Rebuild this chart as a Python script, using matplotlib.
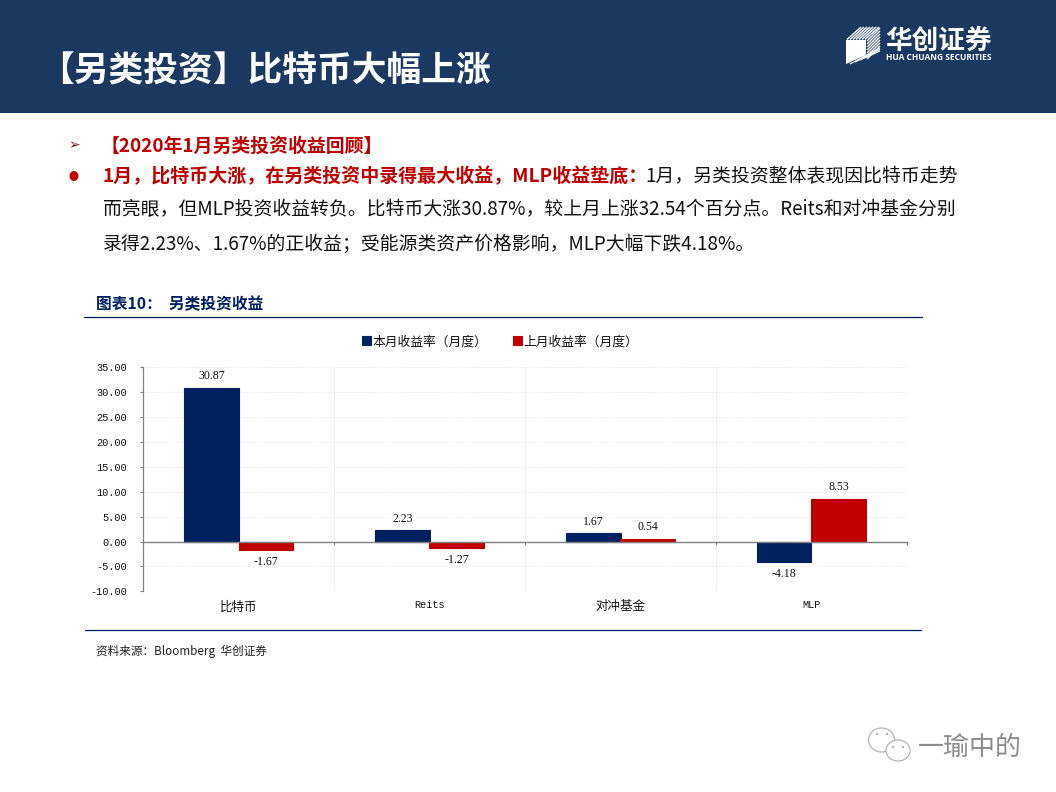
import matplotlib
matplotlib.use("Agg")
import matplotlib.pyplot as plt
from matplotlib.patches import Ellipse, Polygon, Rectangle

CJK = ["Noto Sans CJK SC", "DejaVu Sans"]
plt.rcParams["font.family"] = CJK
plt.rcParams["axes.unicode_minus"] = False

# Chart data
categories = ["比特币", "Reits", "对冲基金", "MLP"]
this_month = [30.87, 2.23, 1.67, -4.18]
last_month = [-1.67, -1.27, 0.54, 8.53]
series_names = ["本月收益率（月度）", "上月收益率（月度）"]
y_ticks = [-10, -5, 0, 5, 10, 15, 20, 25, 30, 35]

# Slide text
slide_title = "【另类投资】比特币大幅上涨"
section_head = "【2020年1月另类投资收益回顾】"
lead_red = "1月，比特币大涨，在另类投资中录得最大收益，MLP收益垫底："
lead_black = "1月，另类投资整体表现因比特币走势"
body_2 = "而亮眼，但MLP投资收益转负。比特币大涨30.87%，较上月上涨32.54个百分点。Reits和对冲基金分别"
body_3 = "录得2.23%、1.67%的正收益；受能源类资产价格影响，MLP大幅下跌4.18%。"
chart_title = "图表10：  另类投资收益"
source_note = "资料来源：Bloomberg  华创证券"

NAVY = "#002060"
RED = "#C00000"
BAND = "#1A3860"
INK = "#111111"
W, H = 1056, 792

fig = plt.figure(figsize=(W / 100, H / 100), dpi=100, facecolor="white")

# Slide layer, addressed in pixels from the top-left corner
bg = fig.add_axes([0, 0, 1, 1], zorder=0)
bg.set_xlim(0, W)
bg.set_ylim(H, 0)
bg.axis("off")
bg.add_patch(Rectangle((0, 0), W, 113, color=BAND, lw=0))
bg.text(39, 71, slide_title, color="white", fontsize=25, fontweight="bold", va="center")

# Company mark: a white block with hatched top and side faces
bg.add_patch(Polygon([(846, 40), (866, 40), (866, 55), (846, 64)], color="white", lw=0))
for i in range(7):
    d = i * 3.0
    bg.plot([847 + d, 861 + d], [39.5, 27], color="white", lw=1.0, solid_capstyle="butt")
    bg.plot([867, 880], [41 + d, 28 + d], color="white", lw=1.0, solid_capstyle="butt")
    if i > 3:
        bg.plot([850 + (i - 4) * 5, 880], [64 - (i - 4) * 2, 49 + (i - 4) * 1.5 - 1],
                color="white", lw=0.9, solid_capstyle="butt")
bg.text(885, 41, "华创证券", color="white", fontsize=19.2, fontweight="bold", va="center")
bg.text(886, 58, "HUA CHUANG SECURITIES", color="white", fontsize=6.0, fontweight="bold",
        family="Open Sans", va="center")

# Slide body text
bg.text(68, 145, "➢", color="#7A1010", fontsize=10, family=["DejaVu Sans"], va="center")
bg.text(101, 146, section_head, color=RED, fontsize=13.6, fontweight="bold", va="center")
bg.add_patch(Ellipse((74, 176), 9, 10, color=RED, lw=0))
bg.text(103, 177, lead_red, color=RED, fontsize=13.7, fontweight="bold", va="center")
bg.text(645, 177, lead_black, color=INK, fontsize=13.55, va="center")
bg.text(103, 210, body_2, color=INK, fontsize=13.55, va="center")
bg.text(103, 244, body_3, color=INK, fontsize=13.55, va="center")

# Chart frame: caption, rules, source
bg.text(96, 304, chart_title, color=NAVY, fontsize=11.3, fontweight="bold", va="center")
bg.plot([84, 922], [317, 317], color=NAVY, lw=0.9)
bg.plot([85, 921], [630, 630], color=NAVY, lw=0.9)
bg.text(96, 651, source_note, color="#222222", fontsize=8.4, va="center")

# Footer account mark
for centre, size in [((881.5, 740), (26, 24)), ((898, 750.5), (24, 21))]:
    bg.add_patch(Ellipse(centre, *size, facecolor="white", edgecolor="#B4B4B4", lw=0.9))
for eye in [(877, 734), (887, 734), (893, 747), (903, 747)]:
    bg.add_patch(Ellipse(eye, 2.2, 2.2, color="#A8A8A8", lw=0))
bg.text(918, 747, "一瑜中的", color="#8C8C8C", fontsize=18.7, va="center")

# Bar chart
left, right, top, bottom = 143.3, 906.7, 367.3, 591.3
ax = fig.add_axes([left / W, 1 - bottom / H, (right - left) / W, (bottom - top) / H], zorder=1)
ax.patch.set_alpha(0)
ax.set_xlim(0, len(categories))
ax.set_ylim(-10, 35)
ax.set_yticks(y_ticks)
ax.set_yticklabels([f"{v:.2f}" for v in y_ticks], family="Liberation Mono", fontsize=7.4, color=INK)
ax.tick_params(axis="y", length=2.5, width=0.8, color="#808080", pad=9.4)

positions = [i + 0.5 for i in range(len(categories))]
offset, width = 0.143, 0.288
bars_a = ax.bar([p - offset for p in positions], this_month, width, color=NAVY, edgecolor=NAVY,
                lw=0.8, label=series_names[0], zorder=3)
bars_b = ax.bar([p + offset for p in positions], last_month, width, color=RED, edgecolor=RED,
                lw=0.8, label=series_names[1], zorder=3)

for bars, values in ((bars_a, this_month), (bars_b, last_month)):
    for bar, value in zip(bars, values):
        ax.annotate(f"{value:.2f}", (bar.get_x() + bar.get_width() / 2, value),
                    xytext=(0, 8.4 if value >= 0 else -8.4), textcoords="offset points",
                    ha="center", va="center", family="Liberation Serif", fontsize=8.6,
                    color=INK, zorder=4)

# Category names sit under the plot area; the zero line carries its own ticks
ax.set_xticks(positions)
ax.set_xticklabels(categories, fontsize=9, color=INK)
ax.tick_params(axis="x", length=0, pad=6.5)
for label, name in zip(ax.get_xticklabels(), categories):
    if name.isascii():
        label.set_family("Liberation Mono")
        label.set_fontsize(7.4)

zero_axis = ax.secondary_xaxis(10 / 45)
zero_axis.set_xticks(range(len(categories) + 1))
zero_axis.set_xticklabels([])
zero_axis.tick_params(axis="x", length=2.5, width=0.8, color="#808080")
zero_axis.spines["bottom"].set_color("#808080")
zero_axis.spines["bottom"].set_linewidth(1.0)
zero_axis.set_zorder(5)

ax.grid(axis="y", color="#EAEAEA", lw=0.7, ls=(0, (1, 1)), zorder=0)
ax.grid(axis="x", visible=False)
for boundary in range(1, len(categories) + 1):
    ax.axvline(boundary, color="#F0F0F0", lw=0.7, zorder=0)

for side in ("top", "right", "bottom"):
    ax.spines[side].set_visible(False)
ax.spines["left"].set_color("#808080")
ax.spines["left"].set_linewidth(0.9)

ax.legend(loc="center", bbox_to_anchor=((500 - left) / (right - left), 1 + 25.5 / (bottom - top)),
          ncol=2, frameon=False, fontsize=9.2, handlelength=0.7, handleheight=0.7,
          handletextpad=0.15, columnspacing=2.0, labelcolor=INK)

fig.savefig("out.png", dpi=100, facecolor="white")
